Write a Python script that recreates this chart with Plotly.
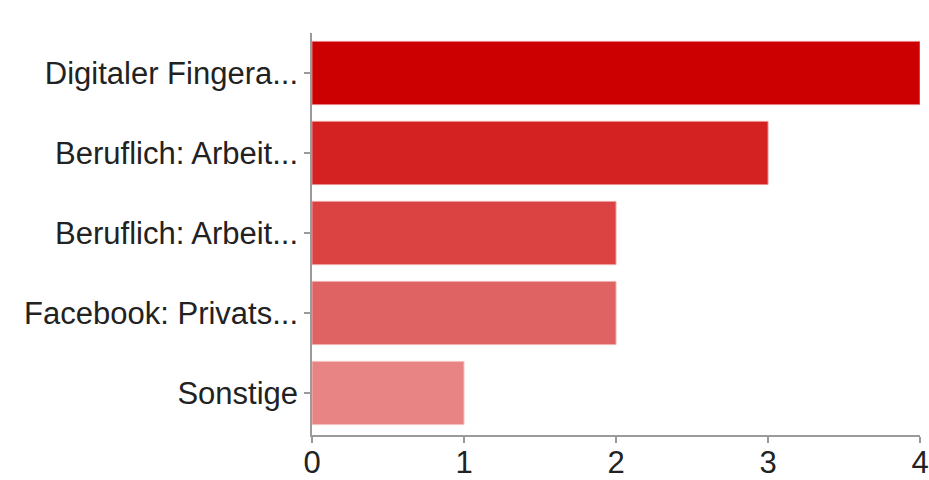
import plotly.graph_objects as go

categories = ["Digitaler Fingera...", "Beruflich: Arbeit...", "Beruflich: Arbeit...", "Facebook: Privats...", "Sonstige"]
values = [4, 3, 2, 2, 1]
colors = ["#cc0000", "#d42121", "#db4242", "#e06363", "#e88484"]
edge_colors = ["#e88080", "#eb9090", "#efa0a0", "#f2b0b0", "#f5c0c0"]
x_ticks = [0, 1, 2, 3, 4]
positions = list(range(len(categories)))

fig = go.Figure(go.Bar(
    x=values, y=positions, orientation="h",
    marker=dict(color=colors, line=dict(color=edge_colors, width=1)),
    width=0.79,
))

font = dict(family="Liberation Sans, Arial, Helvetica, sans-serif", size=31, color="#222222")

fig.update_layout(
    width=929, height=480,
    margin=dict(l=312, r=9, t=33, b=45),
    plot_bgcolor="white", paper_bgcolor="white",
    showlegend=False,
    font=font,
    xaxis=dict(range=[0, 4], tickvals=x_ticks, showgrid=False, zeroline=False,
               automargin=False,
               showline=True, linecolor="#9a9a9a", linewidth=1.5,
               ticks="outside", ticklen=6, tickcolor="#9a9a9a", tickwidth=1.5,
               tickfont=font, ticklabelstandoff=-7),
    yaxis=dict(range=[4.525, -0.5], tickvals=positions, ticktext=categories,
               showgrid=False, zeroline=False, automargin=False,
               showline=True, linecolor="#9a9a9a", linewidth=1.5,
               ticks="outside", ticklen=6, tickcolor="#9a9a9a", tickwidth=1.5,
               tickfont=font, ticklabelstandoff=0),
)

fig.write_html("out.html", config={"displayModeBar": False},
               post_script="document.body.style.margin='0';document.body.style.overflow='hidden';")
